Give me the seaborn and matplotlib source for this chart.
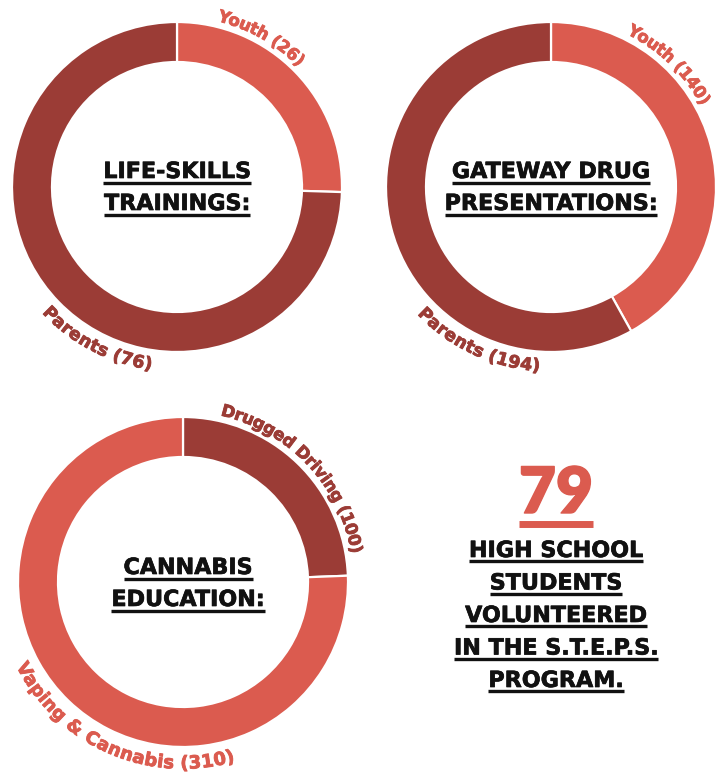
import numpy as np
import seaborn as sns
import matplotlib.pyplot as plt
import matplotlib.patheffects as pe
from matplotlib.font_manager import FontProperties

sns.set_theme(style="white")
plt.rcParams['font.family'] = ['DejaVu Sans']

W, H = 727, 776
light = "#DB5B4F"
dark = "#9B3C36"

life_labels = ["Youth", "Parents"]
life_values = [26, 76]
gateway_labels = ["Youth", "Parents"]
gateway_values = [140, 194]
cannabis_labels = ["Drugged Driving", "Vaping & Cannabis"]
cannabis_values = [100, 310]
volunteers = 79
volunteer_lines = ["HIGH SCHOOL", "STUDENTS", "VOLUNTEERED", "IN THE S.T.E.P.S.", "PROGRAM."]

fig = plt.figure(figsize=(W / 100, H / 100), dpi=100)
ax = fig.add_axes([0, 0, 1, 1])
renderer = fig.canvas.get_renderer()

R = 165
RING = 40


def donut(values, colors, cx, cy):
    ax.pie(values, colors=colors, startangle=90, counterclock=False,
           center=(cx, H - cy), radius=R,
           wedgeprops=dict(width=RING, edgecolor="white", linewidth=1.6))


# pies first, then fix the axes to pixel coords
donut(life_values, [light, dark], 177, 187)
donut(gateway_values, [light, dark], 551, 187)
donut(cannabis_values, [dark, light], 183, 582)
ax.set_xlim(0, W)
ax.set_ylim(0, H)
ax.set_aspect("auto")
ax.axis("off")


def arc_text(text, cx, cy, mid, r, color, size=12, top=True):
    fp = FontProperties(family="DejaVu Sans", weight="bold", size=size)

    def w(s):
        return renderer.get_text_width_height_descent(s, fp, ismath=False)[0]

    total = w(text)
    cap = w("H") * 0.9
    rb = r - cap / 2 if top else r + cap / 2
    sign = 1 if top else -1
    for i, ch in enumerate(text):
        if ch == " ":
            continue
        c = w(text[:i + 1]) - w(ch) / 2 - total / 2
        th = mid + sign * np.degrees(c / r)
        t = np.radians(th)
        x = cx + rb * np.sin(t)
        y = H - cy + rb * np.cos(t)
        rot = -th if top else 180 - th
        ax.text(x, y, ch, fontproperties=fp, color=color, rotation=rot,
                rotation_mode="anchor", ha="center", va="baseline",
                path_effects=[pe.withStroke(linewidth=0.6, foreground=color)])


def underlined(x, base, s, size, color="#111111", lw=2.4, gap=5, family="DejaVu Sans",
               weight="bold", stroke=0.5):
    t = ax.text(x, H - base, s, ha="center", va="baseline", fontsize=size,
                fontweight=weight, color=color, family=family,
                path_effects=[pe.withStroke(linewidth=stroke, foreground=color)])
    bb = t.get_window_extent(renderer)
    (x0, _), (x1, _) = ax.transData.inverted().transform([[bb.x0, bb.y0], [bb.x1, bb.y1]])
    ax.plot([x0, x1], [H - base - gap, H - base - gap], color=color, lw=lw,
            solid_capstyle="butt")


arc_text(f"{life_labels[0]} ({life_values[0]})", 177, 187, 29.5, 177, light)
arc_text(f"{life_labels[1]} ({life_values[1]})", 177, 187, 207.5, 178, dark, size=12.5, top=False)
arc_text(f"{gateway_labels[0]} ({gateway_values[0]})", 551, 187, 44, 177, light)
arc_text(f"{gateway_labels[1]} ({gateway_values[1]})", 551, 187, 205, 178, dark, size=12.5, top=False)
arc_text(f"{cannabis_labels[0]} ({cannabis_values[0]})", 183, 582, 46.6, 177, dark)
arc_text(f"{cannabis_labels[1]} ({cannabis_values[1]})", 183, 582, 203.5, 180, light, size=13, top=False)

underlined(177, 178, "LIFE-SKILLS", 16)
underlined(177, 210, "TRAININGS:", 16)
underlined(551, 178, "GATEWAY DRUG", 16)
underlined(551, 210, "PRESENTATIONS:", 16)
underlined(188, 574, "CANNABIS", 16)
underlined(188, 606, "EDUCATION:", 16)

underlined(556, 513, str(volunteers), 46, color=light, lw=5, gap=11, family="Lato",
           weight="heavy", stroke=1)
for i, line in enumerate(volunteer_lines):
    underlined(556, 557 + i * 32.5, line, 16, gap=4)

fig.savefig("out.png", dpi=100, facecolor="white")
